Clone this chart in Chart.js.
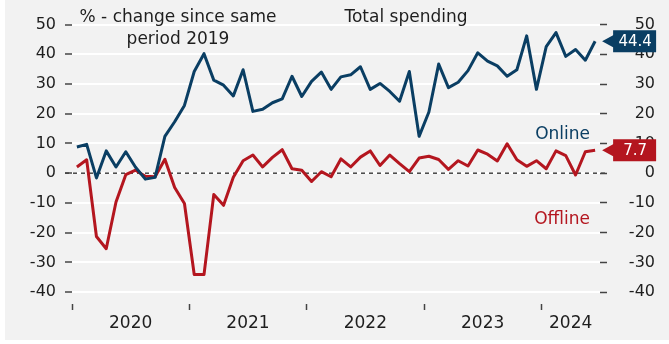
<!DOCTYPE html>
<html>
<head>
<meta charset="utf-8">
<script src="https://cdn.jsdelivr.net/npm/chart.js@4/dist/chart.umd.min.js"></script>
<style>
    html, body { margin: 0; padding: 0; background: #ffffff; }
    canvas { display: block; }
</style>
</head>
<body>
<canvas id="spendingChart" width="669" height="344"></canvas>
<script>
// Monthly series, Jan 2020 - Jun 2024, % change vs same period 2019
const years = ['2020', '2021', '2022', '2023', '2024'];

const online = [
    8.8, 9.7, -1.6, 7.5, 2.1, 7.2, 2.0, -2.0, -1.4, 12.4, 17.3, 22.8,
    34.2, 40.2, 31.3, 29.6, 26.0, 34.8, 20.8, 21.5, 23.7, 25.0, 32.6, 25.8,
    30.9, 34.0, 28.2, 32.4, 33.1, 35.8, 28.2, 30.2, 27.5, 24.2, 34.2, 12.4,
    20.6, 36.7, 28.8, 30.6, 34.5, 40.5, 37.7, 36.1, 32.6, 34.8, 46.2, 28.2,
    42.6, 47.3, 39.3, 41.6, 38.0, 44.4
];

const offline = [
    2.1, 4.5, -21.3, -25.4, -9.7, -0.5, 1.0, -1.0, -1.2, 4.7, -4.8, -10.2,
    -34.1, -34.1, -7.2, -10.8, -1.4, 4.2, 6.1, 2.1, 5.3, 7.9, 1.5, 1.0,
    -2.8, 0.5, -1.2, 4.8, 2.1, 5.4, 7.5, 2.6, 6.1, 3.2, 0.5, 5.1,
    5.7, 4.6, 1.3, 4.2, 2.4, 7.8, 6.4, 4.1, 9.9, 4.5, 2.3, 4.2,
    1.5, 7.5, 5.9, -0.6, 7.2, 7.7
];

const yTicks = [-40, -30, -20, -10, 0, 10, 20, 30, 40, 50];

const BLUE = '#0a3e63';
const RED = '#b4161f';
const TEXT = '#1e1e1e';
const FONT = '"DejaVu Sans", sans-serif';

const nMonths = online.length;

// year boundaries get a tick mark, year middles get the label
const yearMarks = [];
years.forEach((y, k) => {
    const start = k * 12 - 0.5;
    const end = Math.min(start + 12, nMonths - 0.5);
    yearMarks.push({ value: start, label: '' });
    yearMarks.push({ value: (start + end) / 2, label: y });
});

function toPoints(arr) {
    return arr.map((v, i) => ({ x: i, y: v }));
}

// panel background
const backgroundPlugin = {
    id: 'panelBackground',
    beforeDraw(chart) {
        const ctx = chart.ctx;
        ctx.save();
        ctx.fillStyle = '#ffffff';
        ctx.fillRect(0, 0, chart.width, chart.height);
        ctx.fillStyle = '#f2f2f2';
        ctx.fillRect(5, 0, chart.width - 5, chart.height - 4);
        ctx.restore();
    }
};

// dashed zero line across the plot and tick area
const zeroLinePlugin = {
    id: 'zeroLine',
    beforeDatasetsDraw(chart) {
        const { ctx, chartArea, scales } = chart;
        const y = scales.y.getPixelForValue(0);
        ctx.save();
        ctx.strokeStyle = '#444444';
        ctx.lineWidth = 1.5;
        ctx.setLineDash([4, 4]);
        ctx.beginPath();
        ctx.moveTo(chartArea.left - 7, y);
        ctx.lineTo(chartArea.right + 7, y);
        ctx.stroke();
        ctx.restore();
    }
};

// headings and series names
const textPlugin = {
    id: 'chartTexts',
    afterDraw(chart) {
        const { ctx, chartArea } = chart;
        ctx.save();
        ctx.textBaseline = 'middle';
        ctx.font = '17px ' + FONT;
        ctx.fillStyle = TEXT;
        ctx.textAlign = 'center';
        ctx.fillText('% - change since same', 178, 18);
        ctx.fillText('period 2019', 178, 40);
        ctx.fillText('Total spending', 406, 18);

        ctx.textAlign = 'right';
        ctx.fillStyle = BLUE;
        ctx.fillText('Online', chartArea.right - 10, 135);
        ctx.fillStyle = RED;
        ctx.fillText('Offline', chartArea.right - 10, 220);
        ctx.restore();
    }
};

// last-value flags at the end of each line
const lastValuePlugin = {
    id: 'lastValue',
    afterDraw(chart) {
        const ctx = chart.ctx;
        chart.data.datasets.forEach((ds, i) => {
            const meta = chart.getDatasetMeta(i);
            const pt = meta.data[meta.data.length - 1];
            const value = ds.data[ds.data.length - 1].y;
            const x = pt.x, y = pt.y;

            ctx.save();
            ctx.fillStyle = ds.borderColor;
            ctx.beginPath();
            ctx.moveTo(x + 7, y);
            ctx.lineTo(x + 18, y - 6);
            ctx.lineTo(x + 18, y - 11);
            ctx.lineTo(x + 61, y - 11);
            ctx.lineTo(x + 61, y + 11);
            ctx.lineTo(x + 18, y + 11);
            ctx.lineTo(x + 18, y + 6);
            ctx.closePath();
            ctx.fill();

            ctx.fillStyle = '#ffffff';
            ctx.font = '15px ' + FONT;
            ctx.textAlign = 'center';
            ctx.textBaseline = 'middle';
            ctx.fillText(value.toFixed(1), x + 40, y + 1);
            ctx.restore();
        });
    }
};

function initChart() {
    const ctx = document.getElementById('spendingChart');

    new Chart(ctx, {
        type: 'line',
        data: {
            datasets: [
                {
                    label: 'Online',
                    data: toPoints(online),
                    borderColor: BLUE,
                    borderWidth: 3,
                    pointRadius: 0,
                    tension: 0,
                    borderJoinStyle: 'round',
                    yAxisID: 'y'
                },
                {
                    label: 'Offline',
                    data: toPoints(offline),
                    borderColor: RED,
                    borderWidth: 3,
                    pointRadius: 0,
                    tension: 0,
                    borderJoinStyle: 'round',
                    yAxisID: 'y'
                }
            ]
        },
        options: {
            responsive: false,
            animation: false,
            layout: {
                padding: { top: 11, right: 14, left: 0, bottom: 0 }
            },
            plugins: {
                legend: { display: false },
                tooltip: { enabled: false }
            },
            scales: {
                x: {
                    type: 'linear',
                    min: -0.5,
                    max: nMonths - 0.5,
                    afterBuildTicks(scale) {
                        scale.ticks = yearMarks.map(m => ({ value: m.value }));
                    },
                    afterFit(scale) {
                        scale.height = 40;
                    },
                    ticks: {
                        autoSkip: false,
                        maxRotation: 0,
                        padding: 3,
                        color: TEXT,
                        font: { family: FONT, size: 17 },
                        callback: (value, index) => yearMarks[index] ? yearMarks[index].label : ''
                    },
                    grid: {
                        drawOnChartArea: false,
                        tickLength: 6,
                        tickWidth: 1.5,
                        tickColor: c => (yearMarks[c.index] && yearMarks[c.index].label === '') ? '#444444' : 'rgba(0,0,0,0)'
                    },
                    border: { display: false }
                },
                y: {
                    position: 'left',
                    min: -44,
                    max: 52,
                    afterBuildTicks(scale) {
                        scale.ticks = yTicks.map(v => ({ value: v }));
                    },
                    afterFit(scale) {
                        scale.width = 72;
                    },
                    ticks: {
                        padding: 9,
                        color: TEXT,
                        font: { family: FONT, size: 16 }
                    },
                    grid: {
                        color: '#ffffff',
                        lineWidth: 2,
                        tickLength: 7,
                        tickWidth: 1.5,
                        tickColor: '#444444'
                    },
                    border: { display: false }
                },
                y2: {
                    position: 'right',
                    min: -44,
                    max: 52,
                    afterBuildTicks(scale) {
                        scale.ticks = yTicks.map(v => ({ value: v }));
                    },
                    afterFit(scale) {
                        scale.width = 55;
                    },
                    ticks: {
                        padding: 9,
                        crossAlign: 'far',
                        color: TEXT,
                        font: { family: FONT, size: 16 }
                    },
                    grid: {
                        drawOnChartArea: false,
                        tickLength: 7,
                        tickWidth: 1.5,
                        tickColor: '#444444'
                    },
                    border: { display: false }
                }
            }
        },
        plugins: [backgroundPlugin, zeroLinePlugin, textPlugin, lastValuePlugin]
    });
}

document.addEventListener('DOMContentLoaded', initChart);
</script>
</body>
</html>
